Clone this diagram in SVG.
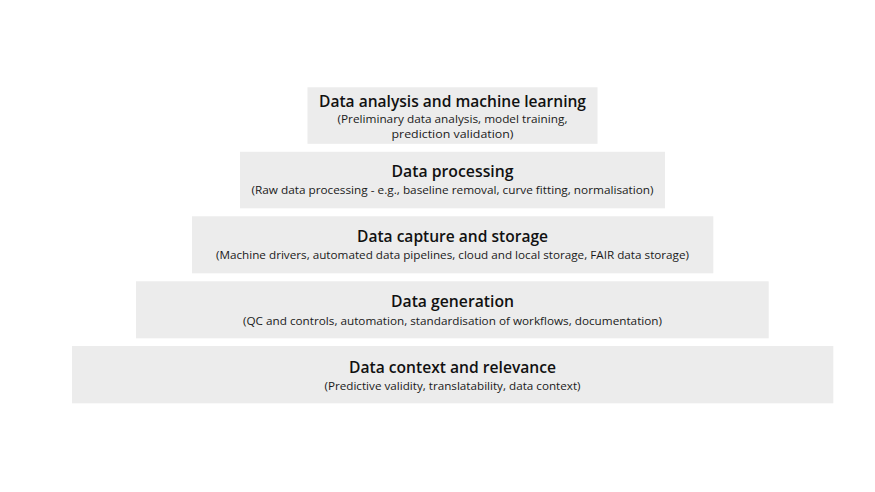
<svg xmlns="http://www.w3.org/2000/svg" width="875" height="492" viewBox="0 0 875 492">
<style>
.box{fill:#ececec}
.t{font-family:"Open Sans","Liberation Sans",sans-serif;font-size:15.5px;font-weight:600;fill:#111;text-anchor:middle}
.s{font-family:"Open Sans","Liberation Sans",sans-serif;font-size:11.5px;font-weight:400;fill:#1a1a1a;text-anchor:middle}
</style>
<rect width="875" height="492" fill="#ffffff"/>
<g id="layer1">
<rect class="box" x="307.5" y="87.3" width="290" height="56.5"/>
<text class="t" x="452.5" y="106.5" textLength="267" lengthAdjust="spacingAndGlyphs">Data analysis and machine learning</text>
<text class="s" x="452.5" y="123" textLength="230" lengthAdjust="spacingAndGlyphs">(Preliminary data analysis, model training,</text>
<text class="s" x="452.5" y="137.5" textLength="122" lengthAdjust="spacingAndGlyphs">prediction validation)</text>
</g>
<g id="layer2">
<rect class="box" x="240" y="151.8" width="425" height="56.5"/>
<text class="t" x="452.5" y="177.3" textLength="122" lengthAdjust="spacingAndGlyphs">Data processing</text>
<text class="s" x="452.5" y="194" textLength="402" lengthAdjust="spacingAndGlyphs">(Raw data processing - e.g., baseline removal, curve fitting, normalisation)</text>
</g>
<g id="layer3">
<rect class="box" x="192" y="216.3" width="521.3" height="57"/>
<text class="t" x="452.5" y="242.3" textLength="191" lengthAdjust="spacingAndGlyphs">Data capture and storage</text>
<text class="s" x="452.5" y="258.5" textLength="473" lengthAdjust="spacingAndGlyphs">(Machine drivers, automated data pipelines, cloud and local storage, FAIR data storage)</text>
</g>
<g id="layer4">
<rect class="box" x="136" y="281.3" width="632.7" height="57"/>
<text class="t" x="452.5" y="307.3" textLength="123" lengthAdjust="spacingAndGlyphs">Data generation</text>
<text class="s" x="452.5" y="324.5" textLength="419" lengthAdjust="spacingAndGlyphs">(QC and controls, automation, standardisation of workflows, documentation)</text>
</g>
<g id="layer5">
<rect class="box" x="72" y="346" width="761.3" height="57.3"/>
<text class="t" x="452.5" y="372.5" textLength="207" lengthAdjust="spacingAndGlyphs">Data context and relevance</text>
<text class="s" x="452.5" y="389.5" textLength="256" lengthAdjust="spacingAndGlyphs">(Predictive validity, translatability, data context)</text>
</g>
<g id="connectors"></g>
</svg>
